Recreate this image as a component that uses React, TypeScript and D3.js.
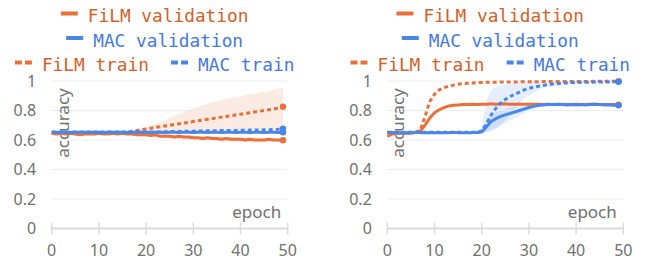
import React, { useEffect, useRef } from 'react'
import * as d3 from 'd3'

// accuracy per epoch (0..49)
const leftFilmVal = [
    0.645, 0.64, 0.645, 0.64, 0.645, 0.64, 0.635, 0.64, 0.64, 0.64,
    0.645, 0.64, 0.64, 0.645, 0.64, 0.645, 0.64, 0.64, 0.635, 0.635,
    0.635, 0.63, 0.635, 0.625, 0.625, 0.625, 0.62, 0.625, 0.62, 0.62,
    0.615, 0.615, 0.61, 0.615, 0.61, 0.61, 0.605, 0.61, 0.605, 0.605,
    0.605, 0.6, 0.605, 0.6, 0.6, 0.6, 0.605, 0.6, 0.6, 0.598,
]
const leftMacVal = [
    0.652, 0.653, 0.652, 0.652, 0.651, 0.652, 0.653, 0.652, 0.652, 0.652,
    0.652, 0.651, 0.652, 0.652, 0.653, 0.652, 0.651, 0.652, 0.652, 0.652,
    0.652, 0.651, 0.652, 0.652, 0.651, 0.652, 0.652, 0.651, 0.652, 0.652,
    0.651, 0.652, 0.652, 0.651, 0.652, 0.652, 0.651, 0.652, 0.652, 0.651,
    0.652, 0.652, 0.651, 0.652, 0.652, 0.651, 0.652, 0.652, 0.651, 0.653,
]
const leftFilmTrain = [
    0.65, 0.65, 0.65, 0.65, 0.65, 0.65, 0.65, 0.65, 0.65, 0.65,
    0.65, 0.65, 0.65, 0.65, 0.65, 0.651, 0.655, 0.66, 0.665, 0.67,
    0.675, 0.68, 0.685, 0.69, 0.695, 0.7, 0.705, 0.71, 0.715, 0.72,
    0.725, 0.73, 0.735, 0.74, 0.745, 0.75, 0.755, 0.76, 0.765, 0.77,
    0.775, 0.78, 0.785, 0.79, 0.795, 0.8, 0.805, 0.81, 0.815, 0.826,
]
const leftMacTrain = [
    0.655, 0.655, 0.655, 0.655, 0.655, 0.655, 0.655, 0.655, 0.655, 0.655,
    0.655, 0.655, 0.655, 0.655, 0.655, 0.655, 0.655, 0.655, 0.655, 0.655,
    0.655, 0.655, 0.655, 0.655, 0.656, 0.657, 0.658, 0.658, 0.659, 0.66,
    0.66, 0.661, 0.661, 0.662, 0.662, 0.663, 0.664, 0.664, 0.665, 0.665,
    0.666, 0.666, 0.667, 0.667, 0.668, 0.669, 0.67, 0.671, 0.673, 0.677,
]

const rightFilmVal = [
    0.625, 0.64, 0.645, 0.645, 0.645, 0.645, 0.65, 0.66, 0.7, 0.75,
    0.785, 0.805, 0.82, 0.83, 0.835, 0.838, 0.84, 0.84, 0.842, 0.84,
    0.843, 0.842, 0.845, 0.843, 0.844, 0.845, 0.843, 0.842, 0.844, 0.843,
    0.842, 0.843, 0.842, 0.841, 0.842, 0.84, 0.841, 0.842, 0.84, 0.841,
    0.842, 0.841, 0.84, 0.842, 0.843, 0.841, 0.84, 0.841, 0.84, 0.84,
]
const rightMacVal = [
    0.65, 0.651, 0.65, 0.65, 0.649, 0.65, 0.651, 0.65, 0.65, 0.65,
    0.65, 0.649, 0.65, 0.65, 0.651, 0.65, 0.65, 0.65, 0.65, 0.651,
    0.655, 0.69, 0.725, 0.745, 0.76, 0.77, 0.78, 0.79, 0.8, 0.81,
    0.82, 0.828, 0.835, 0.838, 0.84, 0.84, 0.842, 0.84, 0.838, 0.84,
    0.838, 0.84, 0.838, 0.84, 0.842, 0.84, 0.838, 0.838, 0.836, 0.835,
]
const rightFilmTrain = [
    0.65, 0.65, 0.65, 0.65, 0.65, 0.65, 0.652, 0.67, 0.76, 0.86,
    0.91, 0.94, 0.955, 0.965, 0.972, 0.978, 0.982, 0.985, 0.987, 0.989,
    0.99, 0.991, 0.992, 0.992, 0.993, 0.993, 0.994, 0.994, 0.994, 0.995,
    0.995, 0.995, 0.995, 0.996, 0.996, 0.996, 0.996, 0.996, 0.997, 0.997,
    0.997, 0.997, 0.997, 0.997, 0.998, 0.998, 0.998, 0.998, 0.998, 0.998,
]
const rightMacTrain = [
    0.652, 0.652, 0.652, 0.652, 0.652, 0.652, 0.652, 0.652, 0.652, 0.652,
    0.652, 0.652, 0.652, 0.652, 0.652, 0.652, 0.652, 0.652, 0.652, 0.652,
    0.66, 0.71, 0.77, 0.815, 0.85, 0.875, 0.895, 0.91, 0.925, 0.94,
    0.95, 0.958, 0.964, 0.97, 0.975, 0.979, 0.982, 0.985, 0.987, 0.989,
    0.99, 0.991, 0.992, 0.992, 0.993, 0.993, 0.994, 0.994, 0.995, 0.995,
]

// shaded spread: [epoch, low, high]
const leftFilmTrainBand: [number, number, number][] = [
    [15, 0.645, 0.655], [17, 0.645, 0.665], [20, 0.645, 0.685], [23, 0.648, 0.72],
    [25, 0.65, 0.75], [28, 0.652, 0.79], [31, 0.655, 0.825], [34, 0.66, 0.855],
    [38, 0.665, 0.885], [41, 0.67, 0.905], [44, 0.675, 0.92], [47, 0.68, 0.94],
    [49, 0.685, 0.96],
]
const leftFilmValBand: [number, number, number][] = [
    [18, 0.625, 0.645], [25, 0.61, 0.64], [32, 0.595, 0.625], [40, 0.585, 0.62], [49, 0.585, 0.612],
]
const rightMacTrainBand: [number, number, number][] = [
    [19, 0.648, 0.656], [20, 0.648, 0.7], [21, 0.652, 0.86], [22, 0.66, 0.93],
    [23, 0.675, 0.96], [24, 0.7, 0.97], [25, 0.73, 0.978], [26, 0.77, 0.983],
    [27, 0.81, 0.987], [28, 0.85, 0.99], [29, 0.88, 0.992], [30, 0.9, 0.994],
    [31, 0.92, 0.995], [32, 0.94, 0.996], [34, 0.96, 0.997], [37, 0.975, 0.998],
    [40, 0.983, 0.998],
]
const rightMacValBand: [number, number, number][] = [
    [20, 0.645, 0.66], [21, 0.655, 0.73], [22, 0.67, 0.77], [24, 0.7, 0.8],
    [26, 0.73, 0.82], [28, 0.765, 0.835], [30, 0.795, 0.845], [32, 0.82, 0.85],
    [34, 0.83, 0.848],
]

const yTicks = [0, 0.2, 0.4, 0.6, 0.8, 1]
const xTicks = [0, 10, 20, 30, 40, 50]

const ORANGE = '#e8703a'
const BLUE = '#4a86e8'
const ORANGE_TEXT = '#d2602a'
const BLUE_TEXT = '#4678dc'
const AXIS_TEXT = '#707070'

interface PanelData {
    left: number
    filmVal: number[]
    macVal: number[]
    filmTrain: number[]
    macTrain: number[]
    bands: { data: [number, number, number][]; color: string }[]
}

const panels: PanelData[] = [
    {
        left: 51.7,
        filmVal: leftFilmVal,
        macVal: leftMacVal,
        filmTrain: leftFilmTrain,
        macTrain: leftMacTrain,
        bands: [
            { data: leftFilmTrainBand, color: ORANGE },
            { data: leftFilmValBand, color: ORANGE },
        ],
    },
    {
        left: 387.3,
        filmVal: rightFilmVal,
        macVal: rightMacVal,
        filmTrain: rightFilmTrain,
        macTrain: rightMacTrain,
        bands: [
            { data: rightMacTrainBand, color: BLUE },
            { data: rightMacValBand, color: BLUE },
        ],
    },
]

const PLOT_W = 236
const MONO = '"DejaVu Sans Mono", monospace'
const SANS = '"Noto Sans", sans-serif'
const LEG_FS = 17.8

const App: React.FC = () => {
    const svgRef = useRef<SVGSVGElement | null>(null)

    useEffect(() => {
        if (!svgRef.current) return
        const svg = d3.select(svgRef.current)
        svg.selectAll('*').remove()

        const y = d3.scaleLinear().domain([0, 1]).range([228.5, 81])

        panels.forEach((p) => {
            const x = d3.scaleLinear().domain([0, 50]).range([p.left, p.left + PLOT_W])
            const g = svg.append('g')

            // bands
            p.bands.forEach((b) => {
                const area = d3
                    .area<[number, number, number]>()
                    .x((d) => x(d[0]))
                    .y0((d) => y(d[1]))
                    .y1((d) => y(d[2]))
                    .curve(d3.curveMonotoneX)
                g.append('path')
                    .datum(b.data)
                    .attr('fill', b.color)
                    .attr('fill-opacity', 0.14)
                    .attr('d', area)
            })

            // grid
            g.selectAll('.grid')
                .data(yTicks.filter((t) => t > 0))
                .join('line')
                .attr('x1', x(0))
                .attr('x2', x(50))
                .attr('y1', (d) => y(d))
                .attr('y2', (d) => y(d))
                .attr('stroke', '#ececec')
                .attr('stroke-width', 1)

            // bottom axis
            g.append('line')
                .attr('x1', x(0))
                .attr('x2', x(50))
                .attr('y1', y(0))
                .attr('y2', y(0))
                .attr('stroke', '#dcdcdc')
                .attr('stroke-width', 2)
            g.selectAll('.xtick')
                .data(xTicks)
                .join('line')
                .attr('x1', (d) => x(d))
                .attr('x2', (d) => x(d))
                .attr('y1', y(0) - 6)
                .attr('y2', y(0) + 6)
                .attr('stroke', '#dcdcdc')
                .attr('stroke-width', 1.5)

            g.selectAll('.xlab')
                .data(xTicks)
                .join('text')
                .attr('x', (d) => x(d))
                .attr('y', 255.7)
                .attr('text-anchor', 'middle')
                .attr('font-family', SANS)
                .attr('font-size', 16)
                .attr('fill', AXIS_TEXT)
                .text((d) => d)

            g.selectAll('.ylab')
                .data(yTicks)
                .join('text')
                .attr('x', p.left - 15.5)
                .attr('y', (d) => y(d))
                .attr('dy', '0.36em')
                .attr('text-anchor', 'end')
                .attr('font-family', SANS)
                .attr('font-size', 16)
                .attr('fill', AXIS_TEXT)
                .text((d) => d3.format('~g')(d))

            g.append('text')
                .attr('transform', `translate(${p.left + 17},123) rotate(-90)`)
                .attr('text-anchor', 'middle')
                .attr('font-family', SANS)
                .attr('font-size', 17)
                .attr('fill', AXIS_TEXT)
                .text('accuracy')

            g.append('text')
                .attr('x', x(50) - 6.5)
                .attr('y', 218)
                .attr('text-anchor', 'end')
                .attr('font-family', SANS)
                .attr('font-size', 17)
                .attr('fill', AXIS_TEXT)
                .text('epoch')

            // lines
            const line = d3
                .line<number>()
                .x((_, i) => x(i))
                .y((d) => y(d))
            const series = [
                { data: p.filmVal, color: ORANGE, dash: null },
                { data: p.filmTrain, color: ORANGE, dash: '4 3' },
                { data: p.macVal, color: BLUE, dash: null },
                { data: p.macTrain, color: BLUE, dash: '4 3' },
            ]
            series.forEach((s) => {
                g.append('path')
                    .datum(s.data)
                    .attr('fill', 'none')
                    .attr('stroke', s.color)
                    .attr('stroke-width', 3)
                    .attr('stroke-dasharray', s.dash)
                    .attr('stroke-linejoin', 'round')
                    .attr('d', line)
                const last = s.data.length - 1
                g.append('circle')
                    .attr('cx', x(last))
                    .attr('cy', y(s.data[last]))
                    .attr('r', 3.2)
                    .attr('fill', s.color)
            })

            // legend
            const cw = LEG_FS * 0.602
            const cx = p.left + 103
            const rows = [
                { y: 22, items: [{ label: 'FiLM validation', color: ORANGE, text: ORANGE_TEXT, dash: false }] },
                { y: 46.5, items: [{ label: 'MAC validation', color: BLUE, text: BLUE_TEXT, dash: false }] },
                {
                    y: 71,
                    items: [
                        { label: 'FiLM train', color: ORANGE, text: ORANGE_TEXT, dash: true },
                        { label: 'MAC train', color: BLUE, text: BLUE_TEXT, dash: true },
                    ],
                },
            ]
            const leg = g.append('g')
            rows.forEach((r) => {
                const widths = r.items.map((it) => 17 + 10 + it.label.length * cw)
                const total = d3.sum(widths) + 22 * (r.items.length - 1)
                let cur = cx - total / 2
                r.items.forEach((it, i) => {
                    leg.append('line')
                        .attr('x1', cur)
                        .attr('x2', cur + 17)
                        .attr('y1', r.y - 8.5)
                        .attr('y2', r.y - 8.5)
                        .attr('stroke', it.color)
                        .attr('stroke-width', 4)
                        .attr('stroke-dasharray', it.dash ? '7 3' : null)
                    leg.append('text')
                        .attr('x', cur + 27)
                        .attr('y', r.y)
                        .attr('font-family', MONO)
                        .attr('font-size', LEG_FS)
                        .attr('fill', it.text)
                        .text(it.label)
                    cur += widths[i] + 22
                })
            })
        })
    }, [])

    return (
        <svg
            ref={svgRef}
            width={646}
            height={264}
            style={{ position: 'absolute', left: 0, top: 0, background: '#fff' }}
        />
    )
}

export default App
